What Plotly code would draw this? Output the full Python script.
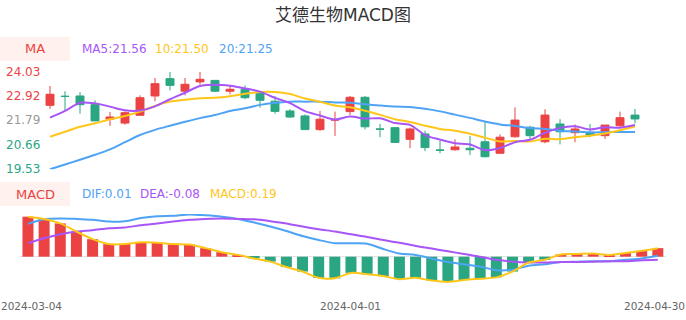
import plotly.graph_objects as go

W, H = 686, 320

dates = ["2024-03-04", "2024-03-05", "2024-03-06", "2024-03-07", "2024-03-08",
         "2024-03-11", "2024-03-12", "2024-03-13", "2024-03-14", "2024-03-15",
         "2024-03-18", "2024-03-19", "2024-03-20", "2024-03-21", "2024-03-22",
         "2024-03-25", "2024-03-26", "2024-03-27", "2024-03-28", "2024-03-29",
         "2024-04-01", "2024-04-02", "2024-04-03", "2024-04-08", "2024-04-09",
         "2024-04-10", "2024-04-11", "2024-04-12", "2024-04-15", "2024-04-16",
         "2024-04-17", "2024-04-18", "2024-04-19", "2024-04-22", "2024-04-23",
         "2024-04-24", "2024-04-25", "2024-04-26", "2024-04-29", "2024-04-30"]

open_ = [22.48, 22.90, 22.91, 22.51, 21.84, 21.66, 22.02, 22.91, 23.71, 23.13,
         23.56, 23.63, 23.13, 23.22, 23.02, 22.67, 22.22, 21.99, 21.36, 21.80,
         22.19, 22.85, 21.39, 21.45, 20.91, 21.16, 20.42, 20.43, 20.50, 20.80,
         20.27, 21.03, 21.47, 20.80, 21.62, 21.22, 21.24, 21.08, 21.54, 22.03]
close_ = [22.99, 22.89, 22.51, 21.76, 21.94, 22.14, 22.83, 23.48, 23.40, 23.45,
          23.68, 23.13, 23.22, 22.83, 22.71, 22.20, 21.94, 21.36, 21.84, 21.81,
          22.85, 21.49, 21.38, 20.77, 21.39, 20.53, 20.41, 20.56, 20.43, 20.11,
          21.01, 21.80, 21.08, 22.03, 21.26, 21.39, 21.11, 21.57, 21.91, 21.85]
high_ = [23.37, 23.13, 23.09, 22.71, 22.17, 22.20, 22.94, 23.74, 24.03, 23.74,
         24.02, 23.63, 23.37, 23.40, 23.02, 22.91, 22.30, 22.06, 22.22, 22.19,
         22.91, 22.91, 21.62, 21.45, 21.45, 21.31, 20.85, 20.91, 21.07, 21.72,
         21.14, 22.39, 21.54, 22.30, 21.84, 21.60, 21.62, 21.57, 22.19, 22.31]
low_ = [22.32, 22.25, 22.09, 21.76, 21.53, 21.59, 22.02, 22.67, 23.17, 22.94,
        23.43, 23.10, 22.99, 22.76, 22.37, 22.09, 21.90, 21.36, 21.30, 21.07,
        22.03, 21.37, 21.01, 20.77, 20.50, 20.37, 20.27, 20.39, 20.19, 20.08,
        20.24, 20.99, 20.91, 20.73, 20.68, 20.78, 21.01, 20.93, 21.47, 21.65]

ma5 = [21.91, 22.22, 22.60, 22.57, 22.42, 22.25, 22.24, 22.43, 22.76, 23.06,
       23.37, 23.43, 23.38, 23.26, 23.11, 22.82, 22.58, 22.21, 22.01, 21.83,
       21.96, 21.87, 21.88, 21.66, 21.58, 21.11, 20.90, 20.73, 20.67, 20.41,
       20.51, 20.78, 20.89, 21.21, 21.44, 21.51, 21.37, 21.47, 21.45, 21.57]
ma10 = [21.03, 21.26, 21.49, 21.65, 21.84, 21.99, 22.19, 22.45, 22.65, 22.74,
        22.81, 22.83, 22.90, 23.01, 23.09, 23.09, 23.00, 22.79, 22.64, 22.47,
        22.39, 22.23, 22.04, 21.84, 21.71, 21.54, 21.39, 21.31, 21.17, 20.99,
        20.81, 20.84, 20.81, 20.94, 20.92, 21.01, 21.08, 21.18, 21.33, 21.50]
ma20 = [19.53, 19.75, 19.97, 20.20, 20.45, 20.78, 21.11, 21.35, 21.54, 21.72,
        21.89, 22.03, 22.22, 22.34, 22.50, 22.60, 22.65, 22.65, 22.65, 22.61,
        22.60, 22.53, 22.47, 22.42, 22.40, 22.32, 22.20, 22.05, 21.90, 21.73,
        21.60, 21.53, 21.43, 21.39, 21.31, 21.27, 21.23, 21.24, 21.25, 21.25]

dif = [0.73, 0.83, 0.85, 0.84, 0.82, 0.78, 0.79, 0.86, 0.90, 0.91,
       0.94, 0.92, 0.89, 0.84, 0.76, 0.67, 0.57, 0.46, 0.37, 0.30,
       0.30, 0.29, 0.17, 0.07, 0.04, -0.04, -0.12, -0.17, -0.22, -0.30,
       -0.29, -0.20, -0.17, -0.12, -0.11, -0.10, -0.10, -0.07, -0.04, 0.02]
dea = [0.30, 0.41, 0.50, 0.56, 0.59, 0.63, 0.65, 0.70, 0.74, 0.78,
       0.82, 0.84, 0.85, 0.84, 0.83, 0.79, 0.74, 0.67, 0.61, 0.56,
       0.50, 0.44, 0.37, 0.31, 0.24, 0.18, 0.12, 0.06, 0.00, -0.07,
       -0.11, -0.13, -0.13, -0.12, -0.12, -0.11, -0.10, -0.10, -0.08, -0.07]
macd = [0.89, 0.84, 0.74, 0.56, 0.39, 0.28, 0.28, 0.32, 0.31, 0.28,
        0.27, 0.19, 0.10, 0.04, -0.04, -0.11, -0.23, -0.33, -0.47, -0.48,
        -0.36, -0.39, -0.43, -0.50, -0.47, -0.53, -0.56, -0.52, -0.49, -0.46,
        -0.33, -0.13, -0.07, 0.05, 0.06, 0.07, 0.04, 0.08, 0.13, 0.19]

title_text = "艾德生物MACD图"
ma_legend = ["MA5:21.56", "10:21.50", "20:21.25"]
macd_legend = ["DIF:0.01", "DEA:-0.08", "MACD:0.19"]
ytick_vals = [24.03, 22.92, 21.79, 20.66, 19.53]
ytick_text = ["24.03", "22.92", "21.79", "20.66", "19.53"]
xtick_idx = [0, 20, 39]

RED = "#EB4343"
GREEN = "#2AA682"
PURPLE = "#A855F7"
YELLOW = "#FFC61A"
BLUE = "#4FA3F5"
FONT = "DejaVu Sans, Noto Sans CJK SC, sans-serif"


def px_x(p):
    return p / W


def px_y(p):
    return 1 - p / H


fig = go.Figure()

fig.add_trace(go.Candlestick(
    x=dates, open=open_, high=high_, low=low_, close=close_,
    increasing=dict(line=dict(color=RED, width=1), fillcolor=RED),
    decreasing=dict(line=dict(color=GREEN, width=1), fillcolor=GREEN),
    whiskerwidth=0, xaxis="x", yaxis="y", hoverinfo="skip", showlegend=False))

for arr, col in [(ma20, BLUE), (ma10, YELLOW), (ma5, PURPLE)]:
    fig.add_trace(go.Scatter(x=dates, y=arr, mode="lines",
                             line=dict(color=col, width=2, shape="spline", smoothing=0.8),
                             xaxis="x", yaxis="y", hoverinfo="skip", showlegend=False))

bar_colors = [RED if v >= 0 else GREEN for v in macd]
fig.add_trace(go.Bar(x=dates, y=macd, marker=dict(color=bar_colors, line=dict(width=0)),
                     width=0.68, xaxis="x2", yaxis="y2", hoverinfo="skip", showlegend=False))
for arr, col in [(dif, BLUE), (dea, PURPLE), (macd, YELLOW)]:
    fig.add_trace(go.Scatter(x=dates, y=arr, mode="lines",
                             line=dict(color=col, width=2, shape="spline", smoothing=0.8),
                             xaxis="x2", yaxis="y2", hoverinfo="skip", showlegend=False))

axis_common = dict(showgrid=False, showline=False, showticklabels=False, ticks="")

fig.update_layout(
    width=W, height=H,
    margin=dict(l=0, r=0, t=0, b=0),
    paper_bgcolor="white", plot_bgcolor="white",
    showlegend=False,
    boxgap=0.47, boxgroupgap=0,
    xaxis=dict(type="category", domain=[px_x(42.5), px_x(642.5)], range=[-0.5, 39.5],
               anchor="y", zeroline=False, rangeslider=dict(visible=False), **axis_common),
    yaxis=dict(domain=[px_y(169.3), px_y(71.7)], range=[19.53, 24.03], anchor="x",
               zeroline=False, **axis_common),
    xaxis2=dict(type="category", domain=[px_x(19.9), px_x(665.9)], range=[-0.5, 39.5],
                anchor="y2", zeroline=False, **axis_common),
    yaxis2=dict(domain=[px_y(284), px_y(214)], range=[-0.607, 0.949], anchor="x2",
                zeroline=True, zerolinecolor="#E3E3E3", zerolinewidth=1, **axis_common),
)

shapes = []
for top, bot in [(37, 61), (182, 206)]:
    shapes.append(dict(type="rect", xref="paper", yref="paper",
                       x0=0, x1=px_x(70), y0=px_y(bot), y1=px_y(top),
                       fillcolor="#FEF1EE", line=dict(width=0), layer="below"))
fig.update_layout(shapes=shapes)

ann = []
ann.append(dict(text=title_text, x=0.5, y=px_y(15), xref="paper", yref="paper",
                xanchor="center", yanchor="middle", showarrow=False,
                font=dict(family=FONT, size=17, color="#333333")))
ann.append(dict(text="MA", x=px_x(35), y=px_y(49), xref="paper", yref="paper",
                xanchor="center", yanchor="middle", showarrow=False,
                font=dict(family=FONT, size=13, color=RED)))
for txt, xp, col in zip(ma_legend, [80, 153, 217], [PURPLE, YELLOW, BLUE]):
    ann.append(dict(text=txt, x=px_x(xp), y=px_y(49), xref="paper", yref="paper",
                    xanchor="left", yanchor="middle", showarrow=False,
                    font=dict(family=FONT, size=12, color=col)))
ann.append(dict(text="MACD", x=px_x(35), y=px_y(194), xref="paper", yref="paper",
                xanchor="center", yanchor="middle", showarrow=False,
                font=dict(family=FONT, size=13, color=RED)))
for txt, xp, col in zip(macd_legend, [80, 138, 208], [BLUE, PURPLE, YELLOW]):
    ann.append(dict(text=txt, x=px_x(xp), y=px_y(194), xref="paper", yref="paper",
                    xanchor="left", yanchor="middle", showarrow=False,
                    font=dict(family=FONT, size=12, color=col)))
ycols = [RED, RED, "#999999", GREEN, GREEN]
for v, t, c in zip(ytick_vals, ytick_text, ycols):
    ann.append(dict(text=t, x=px_x(42), y=v, xref="paper", yref="y",
                    xanchor="right", yanchor="middle", showarrow=False,
                    font=dict(family=FONT, size=12, color=c)))
# x labels: first / middle / last trading day
xl_font = dict(family=FONT, size=10.5, color="#666666")
ann.append(dict(text=dates[xtick_idx[0]], x=0, y=px_y(306), xref="paper", yref="paper",
                xanchor="left", yanchor="middle", showarrow=False, borderpad=0, font=xl_font))
ann.append(dict(text=dates[xtick_idx[1]], x=dates[xtick_idx[1]], y=px_y(306), xref="x2",
                yref="paper", xanchor="center", yanchor="middle", showarrow=False,
                font=xl_font))
ann.append(dict(text=dates[xtick_idx[2]], x=1, y=px_y(306), xref="paper", yref="paper",
                xanchor="right", yanchor="middle", showarrow=False, borderpad=0, font=xl_font))
fig.update_layout(annotations=ann)

fig.write_html("out.html")
